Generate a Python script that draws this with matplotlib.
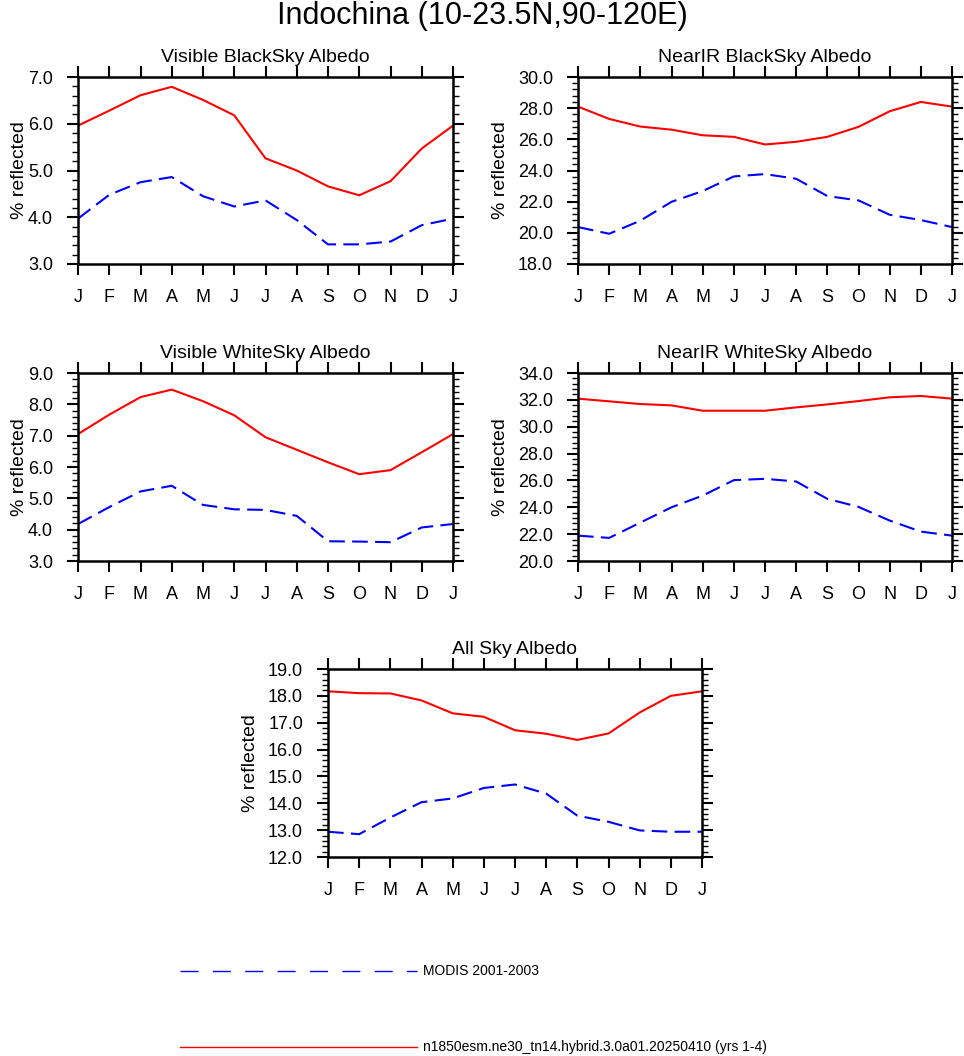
import matplotlib
matplotlib.use("Agg")
import matplotlib.pyplot as plt
from matplotlib.lines import Line2D
from matplotlib.ticker import MultipleLocator, AutoMinorLocator, FormatStrFormatter

plt.rcParams['font.family'] = ['Liberation Sans', 'DejaVu Sans']

months = ["J", "F", "M", "A", "M", "J", "J", "A", "S", "O", "N", "D", "J"]

# Visible BlackSky
vis_black_model = [5.96, 6.28, 6.61, 6.79, 6.51, 6.18, 5.26, 5.00, 4.66, 4.47, 4.77, 5.47, 5.96]
vis_black_modis = [3.97, 4.48, 4.75, 4.86, 4.45, 4.23, 4.36, 3.94, 3.42, 3.42, 3.48, 3.83, 3.97]
# NearIR BlackSky
nir_black_model = [28.10, 27.31, 26.82, 26.62, 26.26, 26.16, 25.67, 25.84, 26.16, 26.80, 27.80, 28.40, 28.10]
nir_black_modis = [20.37, 19.94, 20.78, 21.99, 22.68, 23.62, 23.77, 23.47, 22.36, 22.08, 21.16, 20.82, 20.37]
# Visible WhiteSky
vis_white_model = [7.05, 7.67, 8.23, 8.47, 8.10, 7.65, 6.95, 6.55, 6.15, 5.77, 5.90, 6.47, 7.05]
vis_white_modis = [4.18, 4.72, 5.22, 5.40, 4.79, 4.65, 4.63, 4.44, 3.63, 3.62, 3.60, 4.07, 4.18]
# NearIR WhiteSky
nir_white_model = [32.09, 31.89, 31.69, 31.59, 31.19, 31.19, 31.19, 31.44, 31.66, 31.91, 32.19, 32.29, 32.09]
nir_white_modis = [21.89, 21.72, 22.86, 24.00, 24.87, 26.02, 26.12, 25.92, 24.63, 24.03, 23.01, 22.19, 21.89]
# All Sky
all_model = [18.17, 18.10, 18.09, 17.83, 17.35, 17.22, 16.72, 16.59, 16.36, 16.60, 17.38, 18.00, 18.17]
all_modis = [12.94, 12.85, 13.47, 14.04, 14.18, 14.57, 14.70, 14.36, 13.54, 13.31, 12.99, 12.94, 12.94]

W, H = 964, 1056

# title, model, modis, y range, major step, axes box in px, ylabel right edge offset in px
panels = [
    ("Visible BlackSky Albedo", vis_black_model, vis_black_modis, (3.0, 7.0), 1.0, (78, 77, 453, 264), 50),
    ("NearIR BlackSky Albedo", nir_black_model, nir_black_modis, (18.0, 30.0), 2.0, (578, 77, 952, 264), 69),
    ("Visible WhiteSky Albedo", vis_white_model, vis_white_modis, (3.0, 9.0), 1.0, (78, 373, 453, 561), 50),
    ("NearIR WhiteSky Albedo", nir_white_model, nir_white_modis, (20.0, 34.0), 2.0, (578, 373, 952, 561), 69),
    ("All Sky Albedo", all_model, all_modis, (12.0, 19.0), 1.0, (328, 669, 702, 857), 69),
]

fig = plt.figure(figsize=(W / 100, H / 100), dpi=100)

for title, model, modis, ylim, major, (x0, y0, x1, y1), lab_off in panels:
    ax = fig.add_axes([x0 / W, 1 - y1 / H, (x1 - x0) / W, (y1 - y0) / H])
    x = list(range(len(months)))
    ax.plot(x, model, color="red", lw=1.5)
    ax.plot(x, modis, color="blue", lw=1.5, dashes=(7.5, 3.5))
    ax.set_xlim(0, 12)
    ax.set_ylim(*ylim)
    ax.set_xticks(x)
    ax.set_xticklabels(months)
    ax.yaxis.set_major_locator(MultipleLocator(major))
    ax.yaxis.set_minor_locator(AutoMinorLocator(5))
    ax.yaxis.set_major_formatter(FormatStrFormatter("%.1f"))
    ax.tick_params(which="major", direction="out", length=8, width=1.5,
                   top=True, right=True, labelsize=13, pad=10)
    ax.tick_params(which="minor", direction="out", length=4, width=1.0, right=True)
    for s in ax.spines.values():
        s.set_linewidth(1.8)
    ax.set_title(title, fontsize=14, pad=10.5)
    ax.set_ylabel("% reflected", fontsize=14)
    ax.yaxis.set_label_coords(-lab_off / (x1 - x0), 0.5)

fig.text(0.5, 1 - 24 / H, "Indochina (10-23.5N,90-120E)", fontsize=22,
         ha="center", va="baseline")

# legend
fig.lines.append(Line2D([180 / W, 417 / W], [1 - 971 / H] * 2, color="blue", lw=1.0,
                        dashes=(13, 10.3), transform=fig.transFigure))
fig.text(423 / W, 1 - 971 / H, "MODIS 2001-2003", fontsize=10, va="center")
fig.lines.append(Line2D([180 / W, 417 / W], [1 - 1047 / H] * 2, color="red", lw=1.0,
                        transform=fig.transFigure))
fig.text(423 / W, 1 - 1047 / H, "n1850esm.ne30_tn14.hybrid.3.0a01.20250410 (yrs 1-4)",
         fontsize=10, va="center")

fig.savefig("out.png", dpi=100)
